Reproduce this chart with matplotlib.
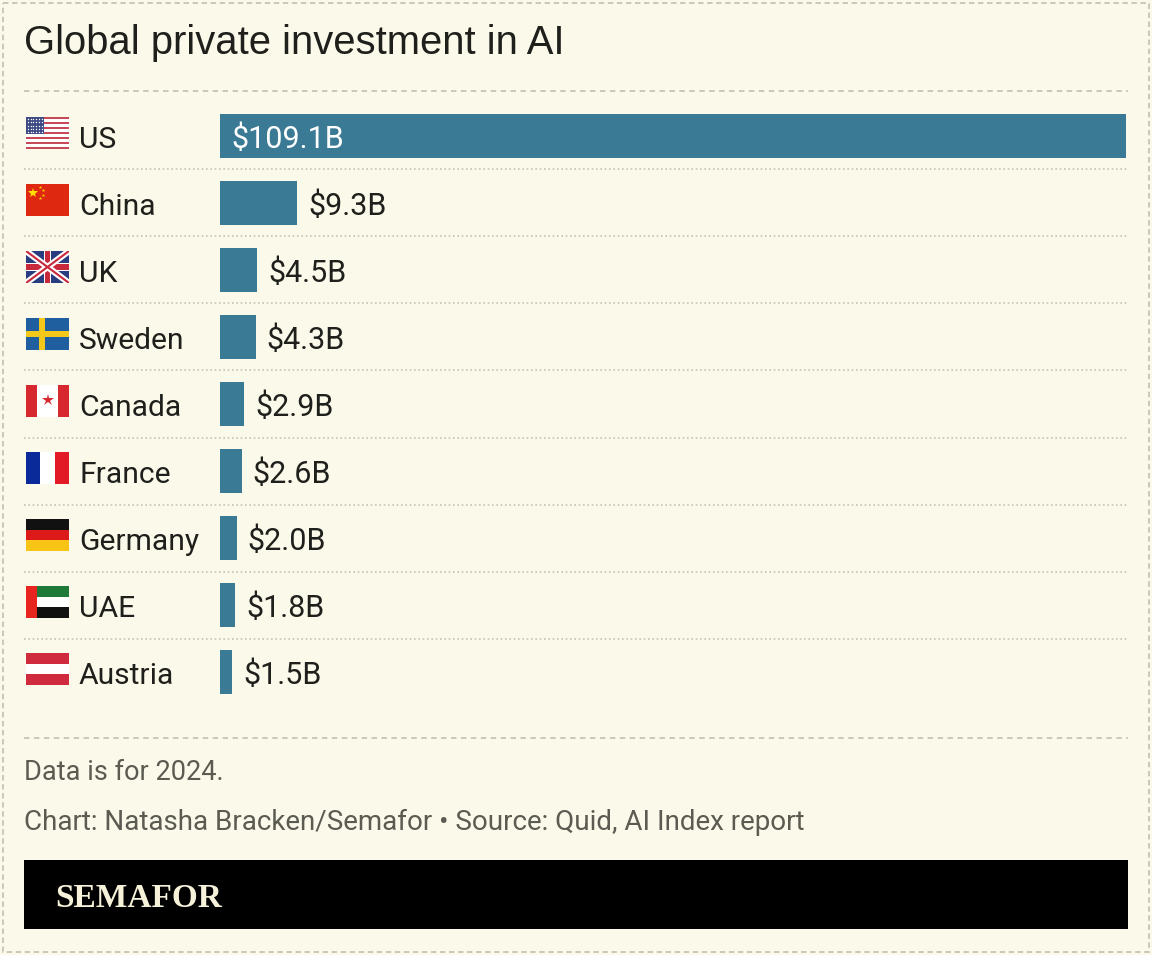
import matplotlib.pyplot as plt
from matplotlib.patches import Rectangle

countries = ["US", "China", "UK", "Sweden", "Canada", "France", "Germany", "UAE", "Austria"]
values = [109.1, 9.3, 4.5, 4.3, 2.9, 2.6, 2.0, 1.8, 1.5]
value_labels = ["$" + f"{v:.1f}" + "B" for v in values]

title = "Global private investment in AI"
note = "Data is for 2024."
credit = "Chart: Natasha Bracken/Semafor \u2022 Source: Quid, AI Index report"

BG = "#fbf9e9"
BAR = "#3b7a95"
INK = "#1f1f1c"
GREY = "#5b5b52"
LINE = "#c6c4b6"

W, H = 1152, 955
ROW0, STEP = 136, 67

fig = plt.figure(figsize=(W / 100, H / 100), dpi=100, facecolor=BG)

# overlay in pixel coordinates for frame, text and flags
bg = fig.add_axes([0, 0, 1, 1], zorder=0)
bg.set_xlim(0, W)
bg.set_ylim(H, 0)
bg.axis("off")
bg.set_facecolor(BG)

bg.add_patch(Rectangle((3, 3), W - 6, H - 6, fill=False, ec=LINE, lw=1.3, ls=(0, (3, 2))))
bg.plot([24, 1128], [91, 91], color=LINE, lw=1.3, ls=(0, (3, 2.5)))
bg.plot([24, 1128], [738, 738], color=LINE, lw=1.3, ls=(0, (3, 2.5)))

bg.text(24, 54, title, fontsize=28.8, family="Liberation Sans", color=INK, va="baseline")
bg.text(24, 780, note, fontsize=19.5, family="Roboto", color=GREY, va="baseline")
bg.text(24, 830, credit, fontsize=20, family="Roboto", color=GREY, va="baseline")

bg.add_patch(Rectangle((24, 860), 1104, 69, color="black", lw=0))
bg.text(55, 907, "SEMAFOR", fontsize=24, family="Liberation Serif", weight="bold",
        color="#f6f2d9", va="baseline")

for i in range(len(countries) - 1):
    y = ROW0 + STEP * (i + 0.5)
    bg.plot([24, 1128], [y, y], color=LINE, lw=1.2, ls=(0, (1, 1.6)))


def flag(ax, name, x, y, w, h):
    def rect(fx, fy, fw, fh, c):
        ax.add_patch(Rectangle((x + fx * w, y + fy * h), fw * w, fh * h, color=c, lw=0))

    red, white = "#c8283c", "#ffffff"
    if name == "US":
        for k in range(13):
            rect(0, k / 13, 1, 1 / 13, "#c64a58" if k % 2 == 0 else white)
        rect(0, 0, 0.42, 7 / 13, "#3d4a86")
        for r in range(5):
            for c in range(6):
                ax.plot(x + (0.04 + c * 0.065) * w, y + (0.07 + r * 0.1) * h, "o",
                        ms=1.0, color=white, mew=0)
    elif name == "China":
        rect(0, 0, 1, 1, "#de2910")
        ax.plot(x + 0.17 * w, y + 0.27 * h, "*", ms=7, color="#ffde00", mew=0)
        for fx, fy in [(0.33, 0.1), (0.4, 0.2), (0.4, 0.35), (0.33, 0.45)]:
            ax.plot(x + fx * w, y + fy * h, "*", ms=2.5, color="#ffde00", mew=0)
    elif name == "UK":
        base = Rectangle((x, y), w, h, color="#283c80", lw=0)
        ax.add_patch(base)
        for lw, c in [(4.5, white), (1.5, red)]:
            for xs, ys in [([x, x + w], [y, y + h]), ([x, x + w], [y + h, y])]:
                ln, = ax.plot(xs, ys, color=c, lw=lw, solid_capstyle="butt")
                ln.set_clip_path(base)
        rect(0.41, 0, 0.18, 1, white)
        rect(0, 0.36, 1, 0.28, white)
        rect(0.45, 0, 0.10, 1, red)
        rect(0, 0.42, 1, 0.16, red)
    elif name == "Sweden":
        rect(0, 0, 1, 1, "#1f5fa0")
        rect(5 / 16, 0, 2 / 16, 1, "#f4c81a")
        rect(0, 0.4, 1, 0.2, "#f4c81a")
    elif name == "Canada":
        rect(0, 0, 0.25, 1, "#d7282f")
        rect(0.25, 0, 0.5, 1, white)
        rect(0.75, 0, 0.25, 1, "#d7282f")
        ax.plot(x + 0.5 * w, y + 0.48 * h, "*", ms=9, color="#d7282f", mew=0)
    elif name == "France":
        rect(0, 0, 1 / 3, 1, "#0a2a9a")
        rect(1 / 3, 0, 1 / 3, 1, white)
        rect(2 / 3, 0, 1 / 3, 1, "#e21a26")
    elif name == "Germany":
        rect(0, 0, 1, 1 / 3, "#111111")
        rect(0, 1 / 3, 1, 1 / 3, "#dd1a1a")
        rect(0, 2 / 3, 1, 1 / 3, "#f8c416")
    elif name == "UAE":
        rect(0.25, 0, 0.75, 1 / 3, "#1f7a3a")
        rect(0.25, 1 / 3, 0.75, 1 / 3, white)
        rect(0.25, 2 / 3, 0.75, 1 / 3, "#111111")
        rect(0, 0, 0.25, 1, "#e8241e")
    elif name == "Austria":
        rect(0, 0, 1, 1 / 3, "#cf2a3e")
        rect(0, 1 / 3, 1, 1 / 3, white)
        rect(0, 2 / 3, 1, 1 / 3, "#cf2a3e")


for i, name in enumerate(countries):
    yc = ROW0 + STEP * i
    flag(bg, name, 26, yc - 19, 43, 32)
    bg.text(79, yc + 11.5, name, fontsize=21.6, family="Roboto", color=INK, va="baseline")

# bar axes
ax = fig.add_axes([220 / W, 1 - 705.5 / H, 906 / W, 603 / H], zorder=1)
ax.patch.set_alpha(0)
ax.barh(range(len(values)), values, height=0.66, color=BAR)
ax.set_xlim(0, max(values))
ax.set_ylim(len(values) - 0.5, -0.5)
ax.axis("off")

for i, (v, lab) in enumerate(zip(values, value_labels)):
    inside = v == max(values)
    ax.annotate(lab, (0 if inside else v, i), xytext=(11, -11.5), textcoords="offset pixels",
                fontsize=22, family="Roboto", color="white" if inside else INK, va="baseline")

fig.savefig("out.png", dpi=100, facecolor=BG)
